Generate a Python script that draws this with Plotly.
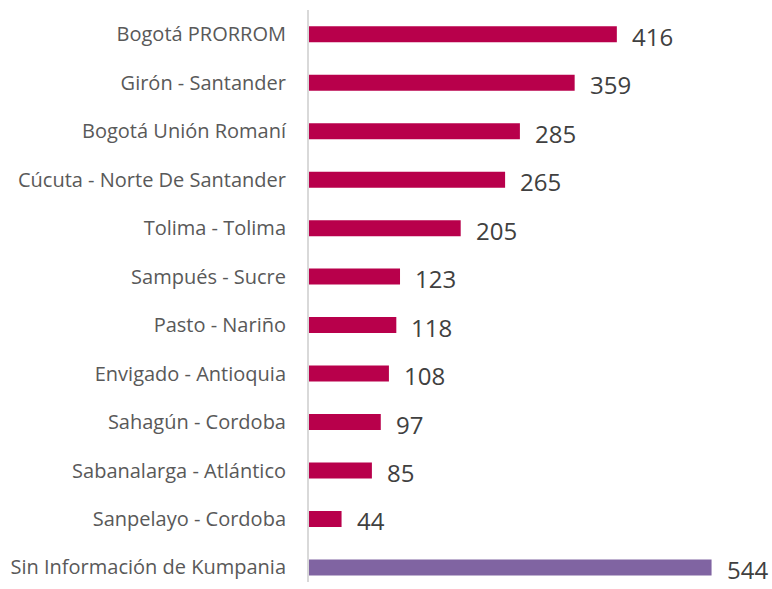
import plotly.graph_objects as go

categories = [
    "Bogotá PRORROM",
    "Girón - Santander",
    "Bogotá Unión Romaní",
    "Cúcuta - Norte De Santander",
    "Tolima - Tolima",
    "Sampués - Sucre",
    "Pasto - Nariño",
    "Envigado - Antioquia",
    "Sahagún - Cordoba",
    "Sabanalarga - Atlántico",
    "Sanpelayo - Cordoba",
    "Sin Información de Kumpania",
]
values = [416, 359, 285, 265, 205, 123, 118, 108, 97, 85, 44, 544]
colors = ["#B8004B"] * 11 + ["#8064A2"]

fig = go.Figure(
    go.Bar(
        x=values,
        y=categories,
        orientation="h",
        marker=dict(color=colors, line=dict(width=0)),
        width=0.33,
        hoverinfo="x+y",
    )
)

for c, v in zip(categories, values):
    fig.add_annotation(
        x=v, y=c, text=str(v), showarrow=False,
        xanchor="left", yanchor="middle", xshift=13, yshift=-2,
        font=dict(family="Open Sans", size=24, color="#404040"),
    )

fig.update_layout(
    width=772,
    height=589,
    margin=dict(l=309, r=19, t=10, b=7, autoexpand=False),
    plot_bgcolor="white",
    paper_bgcolor="white",
    showlegend=False,
    font=dict(family="Open Sans", color="#595959"),
)
fig.update_xaxes(range=[0, 600], visible=False, showgrid=False, zeroline=False)
fig.update_yaxes(
    categoryorder="array",
    categoryarray=categories,
    range=[11.3, -0.5],
    automargin=False,
    showgrid=False,
    zeroline=False,
    showline=True,
    linecolor="#D9D9D9",
    linewidth=2,
    ticks="",
    ticklabelstandoff=17,
    tickfont=dict(family="Open Sans", size=20, color="#595959"),
)

fig.write_html(
    "out.html",
    config={"displayModeBar": False},
    post_script="document.body.style.margin='0';document.body.style.overflow='hidden';",
)
